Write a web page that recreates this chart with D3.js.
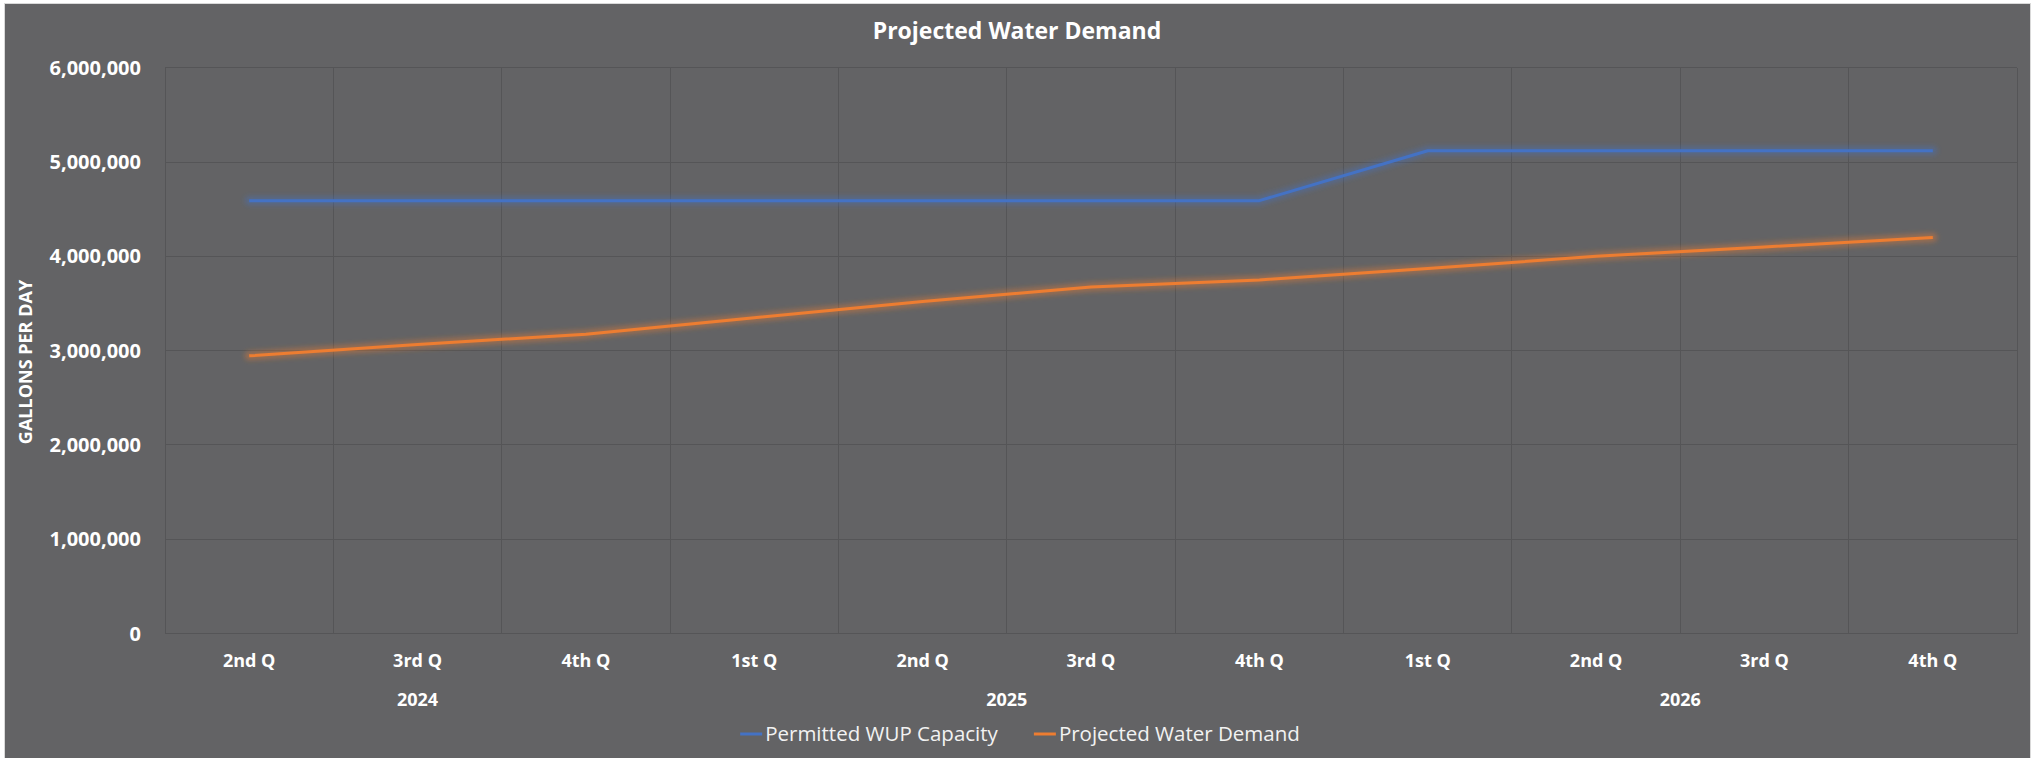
<!DOCTYPE html>
<html>
<head>
<meta charset="utf-8">
<script src="https://cdn.jsdelivr.net/npm/d3@7"></script>
<style>
  html, body { margin: 0; padding: 0; background: #ffffff; }
  svg { display: block; font-family: "Open Sans", "Noto Sans", sans-serif; }
</style>
</head>
<body>
<div id="chart"></div>
<script>
// data
const quarters = ["2nd Q", "3rd Q", "4th Q", "1st Q", "2nd Q", "3rd Q", "4th Q", "1st Q", "2nd Q", "3rd Q", "4th Q"];
const yearLabels = ["2024", "2025", "2026"];
const yearSpans = [3, 4, 4];
const permitted = [4590000, 4590000, 4590000, 4590000, 4590000, 4590000, 4590000, 5120000, 5120000, 5120000, 5120000];
const demand = [2945000, 3065000, 3175000, 3350000, 3520000, 3675000, 3750000, 3870000, 4000000, 4100000, 4200000];
const yTicks = [0, 1000000, 2000000, 3000000, 4000000, 5000000, 6000000];

const seriesNames = ["Permitted WUP Capacity", "Projected Water Demand"];
const seriesColors = ["#4472c4", "#ed7d31"];

const W = 2040, H = 758;
const plot = { left: 165, right: 2017, top: 67.7, bottom: 633.6 };
const bg = "#636365";
const gridColor = "#555557";

const svg = d3.select("#chart").append("svg")
  .attr("width", W).attr("height", H)
  .attr("viewBox", `0 0 ${W} ${H}`);

const defs = svg.append("defs");
defs.append("filter").attr("id", "glow")
  .attr("x", "-5%").attr("y", "-50%").attr("width", "110%").attr("height", "200%")
  .append("feGaussianBlur").attr("stdDeviation", 2.6);

// chart frame
svg.append("rect")
  .attr("x", 4.5).attr("y", 3.5)
  .attr("width", 2026).attr("height", 770)
  .attr("fill", bg).attr("stroke", "#d9d9d9").attr("stroke-width", 1);

const idx = d3.range(quarters.length);
const x = d3.scaleBand().domain(idx).range([plot.left, plot.right]).padding(0);
const y = d3.scaleLinear().domain([0, 6000000]).range([plot.bottom, plot.top]);
const cx = (i) => x(i) + x.bandwidth() / 2;

// grid
const grid = svg.append("g").attr("shape-rendering", "crispEdges");
grid.selectAll("line.h").data(yTicks).join("line")
  .attr("class", "h")
  .attr("x1", plot.left).attr("x2", plot.right)
  .attr("y1", (d) => y(d)).attr("y2", (d) => y(d))
  .attr("stroke", gridColor).attr("stroke-width", 1);
grid.selectAll("line.v").data(d3.range(quarters.length + 1)).join("line")
  .attr("class", "v")
  .attr("x1", (i) => plot.left + i * x.bandwidth()).attr("x2", (i) => plot.left + i * x.bandwidth())
  .attr("y1", plot.top).attr("y2", plot.bottom)
  .attr("stroke", gridColor).attr("stroke-width", 1);

// y axis
const yAxis = svg.append("g")
  .attr("transform", `translate(${plot.left},0)`)
  .call(d3.axisLeft(y).tickValues(yTicks).tickFormat(d3.format(",")).tickSize(0).tickPadding(24));
yAxis.select(".domain").remove();
yAxis.selectAll("text")
  .attr("fill", "#ffffff").attr("font-size", 20).attr("font-weight", "bold")
  .attr("font-family", "'Open Sans', sans-serif");

// x axis (quarters)
const xAxis = svg.append("g")
  .attr("transform", `translate(0,${plot.bottom})`)
  .call(d3.axisBottom(x).tickFormat((i) => quarters[i]).tickSize(0).tickPadding(21));
xAxis.select(".domain").remove();
xAxis.selectAll("text")
  .attr("fill", "#ffffff").attr("font-size", 18).attr("font-weight", "bold")
  .attr("font-family", "'Open Sans', sans-serif");

// year labels under the quarters
let start = 0;
const yearPos = yearSpans.map((n) => {
  const mid = plot.left + (start + n / 2) * x.bandwidth();
  start += n;
  return mid;
});
svg.append("g").selectAll("text").data(yearLabels).join("text")
  .attr("x", (d, i) => yearPos[i]).attr("y", 706)
  .attr("text-anchor", "middle")
  .attr("fill", "#ffffff").attr("font-size", 18).attr("font-weight", "bold")
  .text((d) => d);

// lines
const line = d3.line().x((d, i) => cx(i)).y((d) => y(d));
const allSeries = [permitted, demand];
const lines = svg.append("g");
allSeries.forEach((vals, k) => {
  lines.append("path")
    .attr("d", line(vals))
    .attr("fill", "none")
    .attr("stroke", seriesColors[k]).attr("stroke-opacity", 0.4)
    .attr("stroke-width", 9).attr("stroke-linejoin", "round").attr("stroke-linecap", "round")
    .attr("filter", "url(#glow)");
  lines.append("path")
    .attr("d", line(vals))
    .attr("fill", "none")
    .attr("stroke", seriesColors[k])
    .attr("stroke-width", 3).attr("stroke-linejoin", "round");
});

// title
svg.append("text")
  .attr("x", 1017).attr("y", 39)
  .attr("text-anchor", "middle")
  .attr("fill", "#ffffff").attr("font-size", 23).attr("font-weight", "bold")
  .text("Projected Water Demand");

// y axis title
svg.append("text")
  .attr("transform", `translate(32,362) rotate(-90)`)
  .attr("text-anchor", "middle")
  .attr("fill", "#ffffff").attr("font-size", 18).attr("font-weight", "bold")
  .text("GALLONS PER DAY");

// legend
const legend = svg.append("g");
const items = legend.selectAll("g").data(seriesNames).join("g");
items.append("line")
  .attr("x1", 0).attr("x2", 22).attr("y1", 734).attr("y2", 734)
  .attr("stroke", (d, i) => seriesColors[i]).attr("stroke-width", 3);
items.append("text")
  .attr("x", 25).attr("y", 741)
  .attr("fill", "#f2f2f2").attr("font-size", 20.5)
  .text((d) => d);
const widths = [];
items.each(function () {
  widths.push(25 + d3.select(this).select("text").node().getComputedTextLength());
});
const gap = 36;
const total = d3.sum(widths) + gap * (widths.length - 1);
let lx = 1020 - total / 2;
items.attr("transform", (d, i) => {
  const t = `translate(${lx},0)`;
  lx += widths[i] + gap;
  return t;
});
</script>
</body>
</html>
